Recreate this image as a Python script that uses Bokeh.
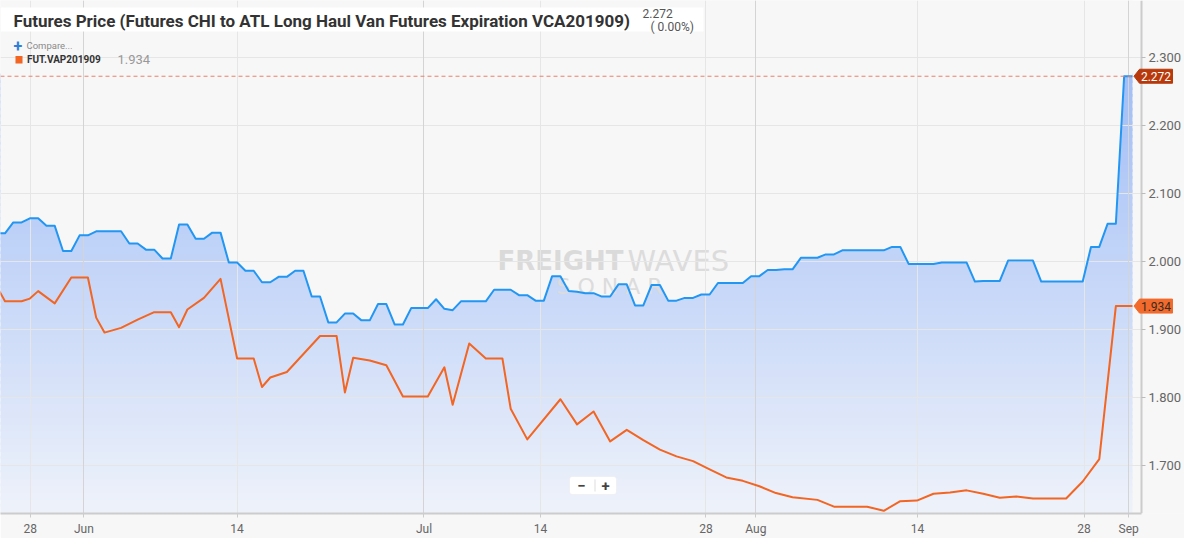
import numpy as np
from bokeh.plotting import figure
from bokeh.models import (Range1d, FixedTicker, NumeralTickFormatter, Label, LinearAxis,
                          PolyAnnotation, BoxAnnotation, Grid)
from bokeh.embed import file_html
from bokeh.resources import INLINE
from bokeh.core.properties import value

# ---------------- data (ordinal slot index -> price) ----------------
blue_slots = list(range(-1, 137))
blue_values = [
    2.041, 2.041, 2.057, 2.057, 2.063, 2.063, 2.052, 2.052, 2.015, 2.015,
    2.038, 2.038, 2.044, 2.044, 2.044, 2.044, 2.026, 2.026, 2.017, 2.017,
    2.004, 2.004, 2.054, 2.054, 2.033, 2.033, 2.042, 2.042, 1.998, 1.998,
    1.986, 1.986, 1.969, 1.969, 1.977, 1.977, 1.986, 1.986, 1.948, 1.948,
    1.910, 1.910, 1.923, 1.923, 1.913, 1.913, 1.937, 1.937, 1.907, 1.907,
    1.931, 1.931, 1.931, 1.944, 1.930, 1.928, 1.941, 1.941, 1.941, 1.941,
    1.958, 1.958, 1.958, 1.950, 1.950, 1.942, 1.942, 1.978, 1.978, 1.956,
    1.955, 1.953, 1.953, 1.948, 1.948, 1.966, 1.966, 1.935, 1.935, 1.965,
    1.965, 1.942, 1.942, 1.946, 1.946, 1.951, 1.951, 1.968, 1.968, 1.968,
    1.968, 1.978, 1.978, 1.987, 1.987, 1.988, 1.988, 2.005, 2.005, 2.005,
    2.010, 2.010, 2.016, 2.016, 2.016, 2.016, 2.016, 2.016, 2.021, 2.021,
    1.996, 1.996, 1.996, 1.996, 1.998, 1.998, 1.998, 1.998, 1.970, 1.971,
    1.971, 1.971, 2.001, 2.001, 2.001, 2.001, 1.970, 1.970, 1.970, 1.970,
    1.970, 1.970, 2.021, 2.021, 2.055, 2.055, 2.272, 2.272,
]
orange_slots = [
    -1, 0, 2, 3, 4, 6, 8, 10, 11, 12, 14, 16, 18, 20, 21, 22, 24, 26, 28, 30,
    31, 32, 34, 38, 40, 41, 42, 44, 46, 48, 51, 53, 54, 56, 58, 60, 61, 63, 67, 69,
    71, 73, 75, 77, 79, 81, 83, 85, 87, 89, 91, 93, 95, 98, 100, 104, 106, 108, 110, 112,
    114, 116, 118, 120, 122, 124, 128, 130, 132, 134, 136,
]
orange_values = [
    1.963, 1.941, 1.941, 1.945, 1.956, 1.938, 1.976, 1.976, 1.917, 1.895,
    1.902, 1.914, 1.925, 1.925, 1.903, 1.929, 1.946, 1.974, 1.857, 1.857,
    1.815, 1.829, 1.837, 1.890, 1.890, 1.807, 1.858, 1.854, 1.847, 1.801,
    1.801, 1.844, 1.789, 1.879, 1.857, 1.857, 1.783, 1.738, 1.797, 1.760,
    1.779, 1.735, 1.752, 1.737, 1.723, 1.713, 1.706, 1.694, 1.682, 1.677,
    1.669, 1.659, 1.653, 1.649, 1.639, 1.639, 1.633, 1.647, 1.648, 1.658,
    1.660, 1.663, 1.658, 1.652, 1.654, 1.651, 1.651, 1.676, 1.709, 1.934,
    1.934,
]
tick_slots = [3.04, 9.52, 27.99, 50.54, 64.6, 84.55, 90.57, 110.08, 130.16, 135.55]
tick_labels = ["28", "Jun", "14", "Jul", "14", "28", "Aug", "14", "28", "Sep"]
month_slots = [9.52, 50.54, 90.57, 135.55]
y_ticks = [1.7, 1.8, 1.9, 2.0, 2.1, 2.2, 2.3]
last_blue = 2.272
last_orange = 1.934
change_text = "( 0.00%)"
title_text = "Futures Price (Futures CHI to ATL Long Haul Van Futures Expiration VCA201909)"
series_name = "FUT.VAP201909"

# ---------------- layout ----------------
FRAME_W, FRAME_H = 1184, 513
PX_PER_SLOT, SLOT0_PX = 8.29, 4.5
PX_PER_UNIT, Y2_PX = 680.0, 260.7
X0 = -SLOT0_PX / PX_PER_SLOT
X1 = X0 + FRAME_W / PX_PER_SLOT
Y1 = 2.0 + Y2_PX / PX_PER_UNIT
Y0 = Y1 - FRAME_H / PX_PER_UNIT
AXIS_X = X0 + 1141 / PX_PER_SLOT
BG = "#f7f7f7"
BLUE = "#2196f3"
ORANGE = "#f26522"
FONT = "Roboto"


def px_x(px):
    return X0 + px / PX_PER_SLOT


def py_y(py):
    return Y1 - py / PX_PER_UNIT


def y_py(v):
    return (Y1 - v) * PX_PER_UNIT


p = figure(frame_width=FRAME_W, frame_height=FRAME_H,
           x_range=Range1d(X0, X1), y_range=Range1d(Y0, Y1),
           y_axis_location=None, output_backend="svg", toolbar_location=None,
           background_fill_color=BG, border_fill_color=BG, outline_line_color=None,
           min_border_left=0, min_border_top=0, min_border_right=0, min_border_bottom=0)

# gradient fill under the blue series (bands, then masked above the line)
top_v = max(blue_values)
n = 64
edges = np.linspace(Y0, top_v, n + 1)
c_top = np.array([162, 190, 246])
c_bot = np.array([238, 242, 250])
cols = []
for i in range(n):
    f = ((edges[i] + edges[i + 1]) / 2 - Y0) / (top_v - Y0)
    c = c_bot + (c_top - c_bot) * f
    cols.append("#%02x%02x%02x" % tuple(int(round(t)) for t in c))
ov = (top_v - Y0) / n * 0.4
p.quad(left=blue_slots[0], right=blue_slots[-1], bottom=list(edges[:-1]),
       top=list(edges[1:] + ov), fill_color=cols, line_color=None, level="image")
p.varea(x=blue_slots, y1=blue_values, y2=[Y1 + 1] * len(blue_slots),
        fill_color=BG, level="image")

# watermark
p.text(x=[px_x(497)], y=[py_y(260)], text=["FREIGHT"], text_font=value("DejaVu Sans"),
       text_font_style="bold", text_font_size="26px", text_color="#dadada",
       text_baseline="middle", level="image")
p.text(x=[px_x(627)], y=[py_y(260)], text=["WAVES"], text_font=value("DejaVu Sans"),
       text_font_size="29px", text_color="#dcdcdc", text_baseline="middle", level="image")
p.text(x=[px_x(609)], y=[py_y(286)], text=["S O N A R"], text_font=value("DejaVu Sans"),
       text_font_size="22px", text_color="#dcdcdc", text_baseline="middle",
       text_align="center", level="image")

# grids
p.xgrid.ticker = FixedTicker(ticks=tick_slots)
p.xgrid.grid_line_color = "#e6e6e6"
p.ygrid.ticker = FixedTicker(ticks=y_ticks)
p.ygrid.grid_line_color = "#e6e6e6"
mg = Grid(dimension=0, ticker=FixedTicker(ticks=month_slots), grid_line_color="#d4d4d4")
p.add_layout(mg)

# hide grid lines in the axis-label strip
p.quad(left=AXIS_X, right=X1 + 1, bottom=Y0 - 1, top=Y1 + 1, fill_color=BG, line_color=None)

# series
p.line(blue_slots, blue_values, line_color=BLUE, line_width=2, line_join="round")
p.line(orange_slots, orange_values, line_color=ORANGE, line_width=2, line_join="round")

# last-value dashed line
p.segment(x0=[X0], x1=[AXIS_X], y0=[last_blue], y1=[last_blue], line_color="#e9826b",
          line_dash="4 3", line_width=1)

# x axis
xa = p.xaxis[0]
xa.ticker = FixedTicker(ticks=tick_slots)
xa.major_label_overrides = {t: l for t, l in zip(tick_slots, tick_labels)}
xa.bounds = (X0, AXIS_X)
xa.axis_line_color = "#cccccc"
xa.axis_line_width = 2
xa.major_tick_line_color = "#cccccc"
xa.major_tick_out = 4
xa.major_tick_in = 0
xa.minor_tick_line_color = None
xa.major_label_text_color = "#666666"
xa.major_label_text_font = FONT
xa.major_label_text_font_size = "12px"
xa.major_label_standoff = 4

# y axis, fixed at the right edge of the plotting area
ya = LinearAxis(fixed_location=AXIS_X)
ya.ticker = FixedTicker(ticks=y_ticks)
ya.formatter = NumeralTickFormatter(format="0.000")
ya.axis_line_color = "#cccccc"
ya.axis_line_width = 2
ya.major_tick_line_color = "#bbbbbb"
ya.major_tick_out = 4
ya.major_tick_in = 0
ya.minor_tick_line_color = None
ya.major_label_text_color = "#666666"
ya.major_label_text_font = FONT
ya.major_label_text_font_size = "13px"
ya.major_label_standoff = 3
p.add_layout(ya, "right")

# price tags on the axis
for val, fill, tcol in [(last_blue, "#b83a0c", "white"), (last_orange, "#f26a2c", "#3a2a20")]:
    cy = y_py(val)
    xs = [px_x(1133.5), px_x(1139), px_x(1172), px_x(1172), px_x(1139)]
    ys = [py_y(cy), py_y(cy - 7), py_y(cy - 7), py_y(cy + 7), py_y(cy + 7)]
    p.add_layout(PolyAnnotation(xs=xs, ys=ys, fill_color=fill, fill_alpha=1.0,
                                line_color=fill, line_alpha=1.0))
    p.add_layout(Label(x=px_x(1155.5), y=val, text="%.3f" % val, text_align="center",
                       text_baseline="middle", text_color=tcol, text_font=FONT,
                       text_font_size="12px"))

# title box
p.add_layout(BoxAnnotation(left=px_x(0), right=px_x(703), top=py_y(7), bottom=py_y(31),
                           fill_color="white", fill_alpha=1.0, line_color=None))
p.add_layout(Label(x=px_x(13), y=py_y(20), text=title_text, text_baseline="middle",
                   text_font=FONT, text_font_style="bold",
                   text_font_size="17px", text_color="#333333"))
p.add_layout(Label(x=px_x(642), y=py_y(13), text="%.3f" % last_blue, text_baseline="middle",
                   text_font=FONT, text_font_size="12px", text_color="#555555"))
p.add_layout(Label(x=px_x(650), y=py_y(26), text=change_text, text_baseline="middle",
                   text_font=FONT, text_font_size="12px", text_color="#555555"))

# legend area
p.add_layout(Label(x=px_x(13), y=py_y(45), text="+", text_baseline="middle",
                   text_font=FONT, text_font_style="bold", text_font_size="16px",
                   text_color="#2f7ed8"))
p.add_layout(Label(x=px_x(26), y=py_y(45), text="Compare...", text_baseline="middle",
                   text_font=FONT, text_font_size="9.5px", text_color="#8a8a8a"))
p.add_layout(BoxAnnotation(left=px_x(15), right=px_x(22), top=py_y(55.5), bottom=py_y(63),
                           fill_color=ORANGE, fill_alpha=1.0, line_color=None))
p.add_layout(Label(x=px_x(26.5), y=py_y(59), text=series_name, text_baseline="middle",
                   text_font=FONT, text_font_style="bold", text_font_size="10px",
                   text_color="#333333"))
p.add_layout(Label(x=px_x(117), y=py_y(59), text="%.3f" % last_orange, text_baseline="middle",
                   text_font=FONT, text_font_size="13px", text_color="#999999"))

# zoom control
p.add_layout(BoxAnnotation(left=px_x(569), right=px_x(616), top=py_y(476), bottom=py_y(494),
                           fill_color="white", fill_alpha=1.0, line_color="#e2e2e2",
                           border_radius=3))
p.add_layout(BoxAnnotation(left=px_x(594), right=px_x(595), top=py_y(479), bottom=py_y(491),
                           fill_color="#dddddd", fill_alpha=1.0, line_color=None))
p.add_layout(Label(x=px_x(581), y=py_y(485), text="\u2212", text_align="center",
                   text_baseline="middle", text_font=FONT, text_font_style="bold",
                   text_font_size="15px", text_color="#444444"))
p.add_layout(Label(x=px_x(605), y=py_y(485), text="+", text_align="center",
                   text_baseline="middle", text_font=FONT, text_font_style="bold",
                   text_font_size="15px", text_color="#444444"))

open("out.html", "w").write(file_html(p, INLINE))
